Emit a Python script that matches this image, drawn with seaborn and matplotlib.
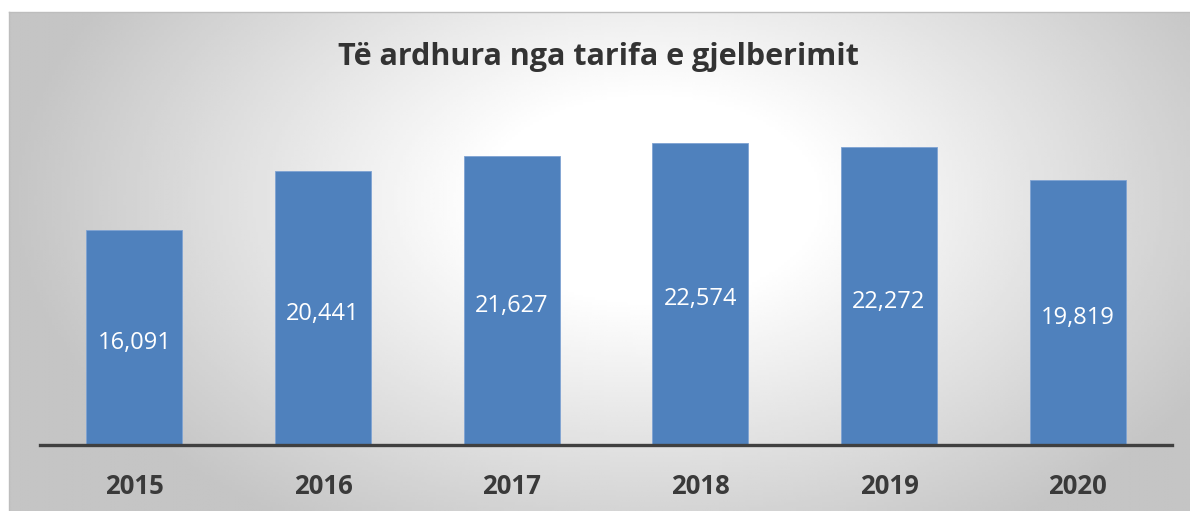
import matplotlib
matplotlib.use("Agg")
import matplotlib.pyplot as plt
import numpy as np
import pandas as pd
import seaborn as sns

# data
years = ["2015", "2016", "2017", "2018", "2019", "2020"]
revenue = [16091, 20441, 21627, 22574, 22272, 19819]
title = "Të ardhura nga tarifa e gjelberimit"

sns.set_theme(style="white")
plt.rcParams['font.family'] = ['Open Sans', 'DejaVu Sans']

df = pd.DataFrame({'year': years, 'revenue': revenue})

W, H = 1190, 511
fig = plt.figure(figsize=(W / 100, H / 100), dpi=100)
fig.patch.set_facecolor('white')

# gradient panel behind the chart
px0, py0 = 9, 12
bg = fig.add_axes([px0 / W, 0, 1 - px0 / W, 1 - py0 / H], zorder=0)
gx, gy = np.meshgrid(np.linspace(px0, W, 400), np.linspace(py0, H, 200))
dist = np.sqrt(((gx - 650) / 620) ** 2 + ((gy - 200) / 380) ** 2)
shade = np.clip(1.08 - 0.3 * dist, 0.77, 1.0)
bg.imshow(shade, cmap='gray', vmin=0, vmax=1, aspect='auto', extent=[0, 1, 0, 1])
bg.set_xticks([])
bg.set_yticks([])
for s in ['right', 'bottom']:
    bg.spines[s].set_visible(False)
for s in ['top', 'left']:
    bg.spines[s].set_color('#bdbdbd')
    bg.spines[s].set_linewidth(1.0)

# main axes
ax = fig.add_axes([40 / W, 66 / H, 1132 / W, 348 / H], zorder=1)
ax.patch.set_alpha(0)
sns.barplot(data=df, x='year', y='revenue', color='#4F81BD', saturation=1,
            width=0.51, edgecolor='#7FA3D3', linewidth=0.6, ax=ax)
ax.set_xlim(-0.5, len(years) - 0.5)
ax.set_ylim(0, 26000)
ax.bar_label(ax.containers[0], labels=[f"{v:,}" for v in revenue],
             label_type='center', color='white', fontsize=17, padding=-4)

ax.set_xlabel('')
ax.set_ylabel('')
ax.set_yticks([])
ax.tick_params(axis='x', length=0, pad=20)
for lbl in ax.get_xticklabels():
    lbl.set_fontweight('bold')
    lbl.set_fontsize(18.5)
    lbl.set_color('#3a3a3a')
for s in ['top', 'right', 'left']:
    ax.spines[s].set_visible(False)
ax.spines['bottom'].set_color('#404040')
ax.spines['bottom'].set_linewidth(2.4)

fig.text(0.5 + 3 / W, 1 - 57 / H, title, ha='center', va='center',
         fontsize=22, fontweight='bold', color='#333333')

fig.savefig('out.png', dpi=100)
